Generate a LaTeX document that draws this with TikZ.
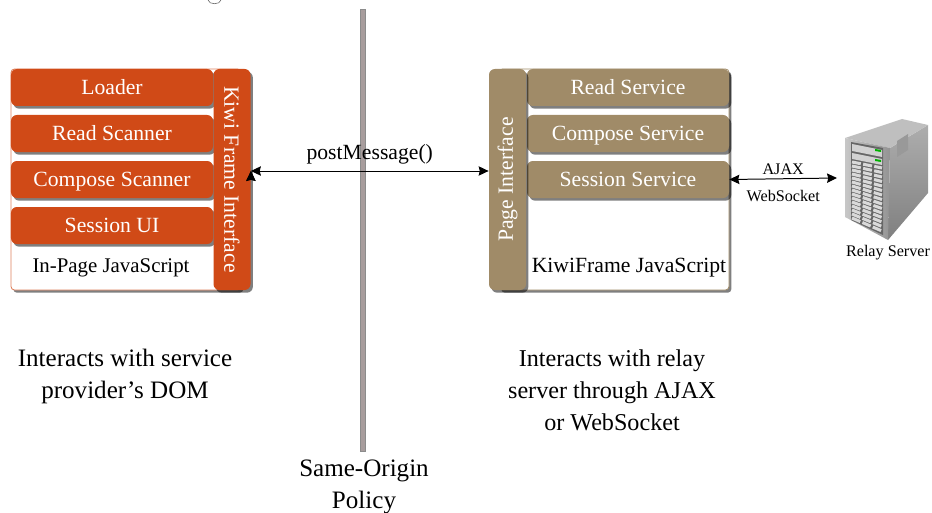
\documentclass[tikz,border=0pt]{standalone}
\usepackage{fontspec}
\setmainfont{Liberation Serif}
\usetikzlibrary{positioning}
\usetikzlibrary{shadows}
\usetikzlibrary{arrows.meta}
\definecolor{kiwiorange}{HTML}{D04A17}
\definecolor{kiwitan}{HTML}{A08B68}
\definecolor{policygray}{HTML}{A89D9D}
\newcommand{\bigfont}{\fontsize{21.4}{27.3}\selectfont}
\newcommand{\midfont}{\fontsize{18.5}{22}\selectfont}
\newcommand{\tinyfont}{\fontsize{13.8}{16}\selectfont}

\begin{document}
\begin{tikzpicture}[x=0.03cm,y=-0.03cm,>={Stealth[inset=1pt,length=8.5pt,width=8pt]},auto,node distance=1.38cm,
	line width=0.7pt,
	softshadow/.style={drop shadow={shadow xshift=0.07cm,shadow yshift=-0.08cm,opacity=0.5,fill=black}},
	frame node/.style={rectangle,rounded corners=3pt,fill=white,minimum height=6.63cm,minimum width=6.9cm,inner sep=0pt,softshadow},
	main node/.style={rectangle,rounded corners=5pt,text=white,minimum width=6.06cm,minimum height=1.11cm,inner sep=0pt,text height=14pt,text depth=2.6pt,font=\midfont,softshadow},
	bar node/.style={rectangle,rounded corners=5pt,text=white,minimum width=1.11cm,minimum height=6.63cm,inner sep=0pt,font=\midfont,softshadow},
	plain node/.style={inner sep=0pt,align=center},
	cell line/.style={line width=2.6pt,draw=white!85!black,dash pattern=on 0.27cm off 0.07cm}]
	\useasboundingbox (0,0) rectangle (932,513);
	
	% cut off letter at the top
	\draw[line width=0.5pt,black!60] (208,0) .. controls (209,5) and (220,5) .. (221,0);
	
	% policy line
	\node[rectangle,fill=policygray,draw=black!45,line width=0.4pt,minimum width=0.15cm,minimum height=13.26cm,inner sep=0pt] (policy) at (362.5,230) {};
	\node[plain node,font=\bigfont] (policylabel) at (364,487) {Same-Origin\\Policy};
	
	% in-page side
	\node[frame node,draw=kiwiorange!70] (inpage) at (126,179.5) {};
	\node[main node,fill=kiwiorange] (loader) at (112,87.5) {Loader};
	\node[main node,fill=kiwiorange] (read) [below of=loader] {Read Scanner};
	\node[main node,fill=kiwiorange] (compose) [below of=read] {Compose Scanner};
	\node[main node,fill=kiwiorange] (session) [below of=compose] {Session UI};
	\node[plain node,font=\fontsize{17.8}{22}\selectfont] (inpagelabel) at (111,268) {In-Page JavaScript};
	\node[bar node,fill=kiwiorange] (kiwi) at (232,179.5) {\rotatebox{-90}{Kiwi Frame Interface}};
	\node[plain node,font=\bigfont] (inpagenote) at (125,376) {Interacts with service\\provider's DOM};
	
	% kiwiframe side
	\node[frame node,draw=kiwitan] (frame) at (614,179.5) {};
	\node[main node,fill=kiwitan] (rservice) at (628,87.5) {Read Service};
	\node[main node,fill=kiwitan] (cservice) [below of=rservice] {Compose Service};
	\node[main node,fill=kiwitan] (sservice) [below of=cservice] {Session Service};
	\node[plain node,font=\midfont] (framelabel) at (629,268) {KiwiFrame JavaScript};
	\node[bar node,fill=kiwitan] (page) at (507.5,179.5) {\rotatebox{90}{Page Interface}};
	\node[plain node,font=\fontsize{20.6}{27.3}\selectfont] (framenote) at (612,390.5) {Interacts with relay\\server through AJAX\\or WebSocket};
	
	% relay server
	\shade[top color=black!32,bottom color=black!50] (890,148) -- (928,125) -- (928,193) -- (888,240) -- cycle;
	\fill[black!25] (845,138) -- (890,148) -- (928,125) -- (902,119) -- cycle;
	\shade[left color=black!22,right color=black!42] (845,138) -- (890,148) -- (888,240) -- (845,217) -- cycle;
	\fill[black!60] (851,142) -- (883,148) -- (883,235) -- (851,220) -- cycle;
	\fill[black!18] (852,144) -- (882,150) -- (882,157) -- (852,151) -- cycle;
	\fill[black!18] (852,153) -- (882,159) -- (882,165) -- (852,159) -- cycle;
	\fill[green!70!black] (875,149) -- (881,150) -- (881,152) -- (875,151) -- cycle;
	\fill[green!70!black] (875,159) -- (881,160) -- (881,162) -- (875,161) -- cycle;
	\fill[black!40] (897,141) -- (908,134) -- (908,150) -- (897,157) -- cycle;
	\foreach \row in {0,...,14}
		\draw[cell line] (852,{162+\row*4}) -- (882,{168+\row*4.5});
	\node[plain node,font=\tinyfont] (relay) at (888,253) {Relay Server};
	\coordinate (server) at (837,178);
	
	% connectors
	\path[<->,draw,line width=0.85pt]
	(kiwi.east |- 0,171) edge node [above=5pt,font=\midfont,inner sep=0pt,pos=0.5] {postMessage()} (page.west |- 0,171);
	\path[<->,line width=0.85pt]
	(sservice.east) edge node [above=3pt,font=\tinyfont,inner sep=0pt] {AJAX} node [below=9pt,font=\tinyfont,inner sep=0pt] {WebSocket} (server);
\end{tikzpicture}
\end{document}
